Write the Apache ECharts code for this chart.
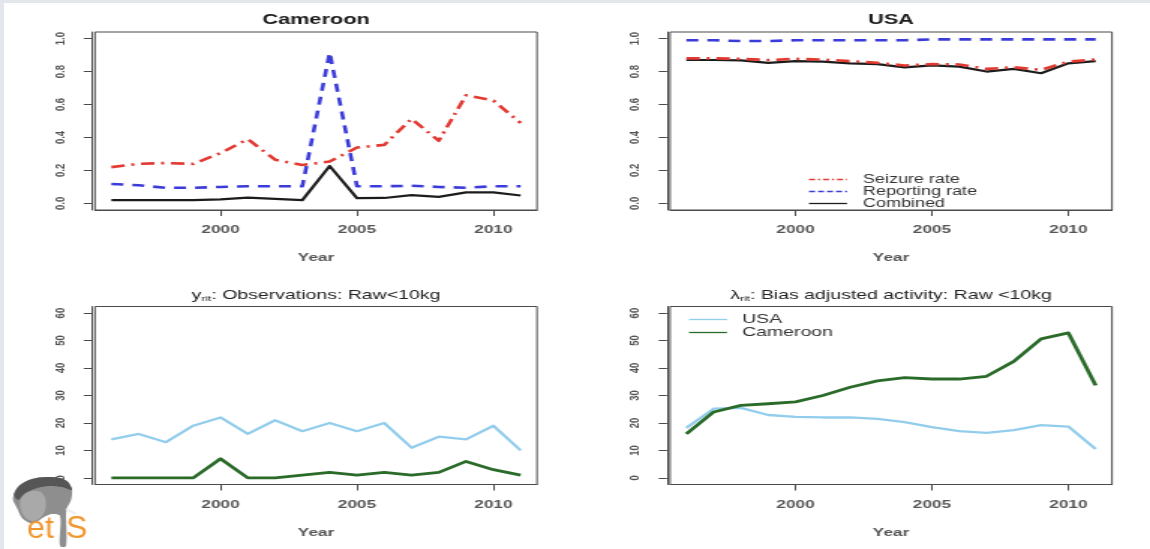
<!DOCTYPE html>
<html>
<head>
<meta charset="utf-8">
<script src="https://cdn.jsdelivr.net/npm/echarts@6/dist/echarts.min.js"></script>
<style>
  html, body { margin: 0; padding: 0; width: 1150px; height: 549px; overflow: hidden; background: #e3e6ea; }
  #paper { position: absolute; left: 4px; top: 3px; width: 1146px; height: 546px; background: #ffffff; }
  /* the figure is laid out on a narrower canvas and widened to the page */
  #chart { position: absolute; left: 0; top: 0; width: 767px; height: 549px;
           transform: scaleX(1.49935); transform-origin: 0 0; }
</style>
</head>
<body>
<div id="paper"></div>
<div id="chart"></div>
<script>
// ---- data -------------------------------------------------------------
const years = [1996, 1997, 1998, 1999, 2000, 2001, 2002, 2003, 2004, 2005, 2006, 2007, 2008, 2009, 2010, 2011];

// Cameroon: seizure / reporting rates and their product
const camSeizure   = [0.22, 0.24, 0.245, 0.24, 0.305, 0.39, 0.265, 0.233, 0.254, 0.339, 0.355, 0.513, 0.38, 0.656, 0.624, 0.488];
const camReporting = [0.118, 0.11, 0.095, 0.095, 0.10, 0.104, 0.104, 0.104, 0.915, 0.104, 0.104, 0.107, 0.10, 0.095, 0.104, 0.104];
const camCombined  = [0.02, 0.02, 0.02, 0.02, 0.025, 0.035, 0.028, 0.02, 0.227, 0.032, 0.033, 0.05, 0.04, 0.067, 0.067, 0.048];

// USA: seizure / reporting rates and their product
const usaSeizure   = [0.88, 0.88, 0.877, 0.87, 0.877, 0.873, 0.863, 0.853, 0.837, 0.845, 0.843, 0.816, 0.826, 0.81, 0.86, 0.873];
const usaReporting = [0.99, 0.99, 0.985, 0.985, 0.99, 0.99, 0.99, 0.99, 0.99, 0.995, 0.995, 0.995, 0.995, 0.995, 0.995, 0.995];
const usaCombined  = [0.87, 0.87, 0.868, 0.853, 0.863, 0.86, 0.85, 0.845, 0.825, 0.837, 0.83, 0.80, 0.816, 0.79, 0.85, 0.863];

// raw observations (<10kg)
const obsUSA      = [14, 16, 13, 19, 22, 16, 21, 17, 20, 17, 20, 11, 15, 14, 19, 10];
const obsCameroon = [0, 0, 0, 0, 7, 0, 0, 1, 2, 1, 2, 1, 2, 6, 3, 1];

// bias adjusted activity (<10kg)
const actUSA      = [18.2, 25.2, 25.5, 22.9, 22.2, 22, 22, 21.5, 20.3, 18.5, 17, 16.4, 17.4, 19.2, 18.7, 10.5];
const actCameroon = [16, 24, 26.4, 27, 27.7, 30, 33, 35.3, 36.5, 36, 36, 37, 42.4, 50.6, 52.8, 33.7];

// tick labels
const yearTicks  = [2000, 2005, 2010];
const rateTicks  = [0, 0.2, 0.4, 0.6, 0.8, 1.0];
const countTicks = [0, 10, 20, 30, 40, 50, 60];

// ---- layout helpers ---------------------------------------------------
const SX = 1150 / 767;               // horizontal widening of the canvas
const px = v => v / SX;              // page x -> canvas x
const FONT = '"Liberation Sans", Arial, Helvetica, sans-serif';
const AX = '#4a4a4a';
const LBL = '#555555';

const RED = '#e23a32', BLUE = '#3b3bd9', BLACK = '#1c1c1c', SKY = '#93cdec', GREEN = '#2a6b2a';

const panels = [
  { left: px(95),  top: 32,    yMin: -0.04, yMax: 1.04, ticks: rateTicks,  fmt: v => v.toFixed(1) },
  { left: px(670), top: 32,    yMin: -0.04, yMax: 1.04, ticks: rateTicks,  fmt: v => v.toFixed(1) },
  { left: px(95),  top: 306.5, yMin: -2.4,  yMax: 62.4, ticks: countTicks, fmt: v => String(v) },
  { left: px(670), top: 306.5, yMin: -2.4,  yMax: 62.4, ticks: countTicks, fmt: v => String(v) }
];
const boxW = px(442), boxH = 178;

const grid = panels.map(p => ({
  left: p.left, top: p.top, width: boxW, height: boxH,
  show: true, borderColor: AX, borderWidth: 1, backgroundColor: 'transparent'
}));

const xAxis = panels.map((p, i) => ({
  type: 'value', gridIndex: i, min: 1995.4, max: 2011.6,
  name: 'Year', nameLocation: 'middle', nameGap: 42,
  nameTextStyle: { fontFamily: FONT, fontSize: 11.5, fontWeight: 'bold', color: LBL },
  axisLine: { show: true, onZero: false, lineStyle: { color: AX, width: 1 } },
  axisTick: { show: true, length: 6, customValues: yearTicks, lineStyle: { color: AX } },
  axisLabel: { customValues: yearTicks, margin: 14, formatter: v => String(v),
               fontFamily: FONT, fontSize: 11.5, fontWeight: 'bold', color: LBL },
  splitLine: { show: false }
}));

const yAxis = panels.map((p, i) => ({
  type: 'value', gridIndex: i, min: p.yMin, max: p.yMax, offset: 2,
  axisLine: { show: true, onZero: false, lineStyle: { color: AX, width: 1 } },
  axisTick: { show: true, length: 5.5, customValues: p.ticks, lineStyle: { color: AX } },
  axisLabel: { customValues: p.ticks, rotate: 90, margin: 16, formatter: p.fmt,
               fontFamily: FONT, fontSize: 9.5, fontWeight: 'bold', color: LBL },
  splitLine: { show: false }
}));

function line(name, gi, vals, color, width, dash, z) {
  return {
    type: 'line', name, xAxisIndex: gi, yAxisIndex: gi,
    data: years.map((y, k) => [y, vals[k]]),
    symbol: 'none', smooth: false, silent: true, z,
    lineStyle: { color, width, type: dash || 'solid', cap: 'butt', join: 'round' },
    itemStyle: { color }
  };
}

const dotDash = [9, 4.5, 2, 4.5];
const dashed  = [8, 6];

const series = [
  line('Seizure rate',   0, camSeizure,   RED,   2.6, dotDash, 2),
  line('Reporting rate', 0, camReporting, BLUE,  2.6, dashed,  3),
  line('Combined',       0, camCombined,  BLACK, 2.2, null,    4),

  line('Combined',       1, usaCombined,  BLACK, 2.2, null,    2),
  line('Seizure rate',   1, usaSeizure,   RED,   2.6, dotDash, 3),
  line('Reporting rate', 1, usaReporting, BLUE,  2.6, dashed,  4),

  line('USA',      2, obsUSA,      SKY,   2.3, null, 2),
  line('Cameroon', 2, obsCameroon, GREEN, 2.8, null, 3),

  line('USA',      3, actUSA,      SKY,   2.3, null, 2),
  line('Cameroon', 3, actCameroon, GREEN, 2.8, null, 3)
];

// legend keys: thin line samples drawn as stretched path icons
const ICON_DOTDASH = 'path://M0,0h6v1h-6z M9,0h2v1h-2z M14,0h6v1h-6z M23,0h2v1h-2z M28,0h6v1h-6z M37,0h1v1h-1z';
const ICON_DASHED  = 'path://M0,0h6v1h-6z M9,0h6v1h-6z M18,0h6v1h-6z M27,0h6v1h-6z M36,0h2v1h-2z';
const ICON_SOLID   = 'path://M0,0h38v1h-38z';
const key = (name, color, icon) => ({ name, icon, itemStyle: { color, borderWidth: 0 } });
const legendCommon = {
  orient: 'vertical', padding: 0, itemWidth: px(38), itemHeight: 1.3, itemGap: 0,
  selectedMode: false, symbolKeepAspect: false
};
const legend = [
  Object.assign({}, legendCommon, {
    data: [key('Seizure rate', RED, ICON_DOTDASH), key('Reporting rate', BLUE, ICON_DASHED), key('Combined', BLACK, ICON_SOLID)],
    left: px(809), top: 173.5,
    textStyle: { fontFamily: FONT, fontSize: 12, lineHeight: 11, color: '#333', padding: [0, 0, 0, px(16) - 5] }
  }),
  Object.assign({}, legendCommon, {
    data: [key('USA', SKY, ICON_SOLID), key('Cameroon', GREEN, ICON_SOLID)],
    left: px(689), top: 313,
    textStyle: { fontFamily: FONT, fontSize: 13, lineHeight: 12, color: '#333', padding: [0, 0, 0, px(15) - 5] }
  })
];

// panel titles
const subRich = {
  m: { fontFamily: FONT, fontSize: 13, lineHeight: 15, fill: '#222' },
  s: { fontFamily: FONT, fontSize: 8, lineHeight: 8, verticalAlign: 'bottom', fill: '#222' }
};
function title(text, cx, cy, bold) {
  return {
    type: 'text', x: cx, y: cy, silent: true,
    style: bold
      ? { text, fontFamily: FONT, fontSize: 14.5, fontWeight: 'bold', fill: '#1a1a1a', align: 'center', verticalAlign: 'middle' }
      : { text, rich: subRich, align: 'center', verticalAlign: 'middle' }
  };
}

// logo in the lower-left corner, drawn in page coordinates
const headPts  = [[14,494],[20,485],[32,479],[46,477],[60,478],[68,482],[72,490],[71,500],[67,508],[66,514],
                  [66,546],[60,546],[60,516],[52,514],[44,517],[38,521],[30,523],[22,518],[17,508],[13,500]];
const crownPts = [[14,494],[20,485],[32,479],[46,477],[60,478],[68,482],[72,490],[62,487],[48,486],[34,489],[24,494],[18,500]];
const earPts   = [[22,497],[32,491],[42,493],[46,504],[42,516],[32,521],[24,516],[20,506]];
const logo = {
  type: 'group', scaleX: 1 / SX, silent: true,
  children: [
    { type: 'polygon', shape: { points: headPts, smooth: 0.3 }, style: { fill: '#8e8e8e' } },
    { type: 'polygon', shape: { points: crownPts, smooth: 0.3 }, style: { fill: '#565656' } },
    { type: 'polygon', shape: { points: earPts, smooth: 0.4 }, style: { fill: '#a9a9a9' } },
    { type: 'line', shape: { x1: 66, y1: 509, x2: 76, y2: 514 }, style: { stroke: '#eeeeee', lineWidth: 2.5 } },
    { type: 'text', x: 27, y: 545, style: { text: 'et', fontFamily: FONT, fontSize: 32, fill: '#f0962e', verticalAlign: 'bottom' } },
    { type: 'text', x: 66, y: 545, style: { text: 'S', fontFamily: FONT, fontSize: 32, fill: '#f0962e', verticalAlign: 'bottom' } }
  ]
};

const chart = echarts.init(document.getElementById('chart'));
chart.setOption({
  animation: false,
  backgroundColor: 'transparent',
  grid, xAxis, yAxis, series, legend,
  graphic: [
    title('Cameroon', px(316), 20, true),
    title('USA', px(891), 20, true),
    title('{m|y}{s|rit}{m|: Observations: Raw<10kg}', px(316), 295, false),
    title('{m|λ}{s|rit}{m|: Bias adjusted activity: Raw <10kg}', px(891), 295, false),
    logo
  ]
});
</script>
</body>
</html>
